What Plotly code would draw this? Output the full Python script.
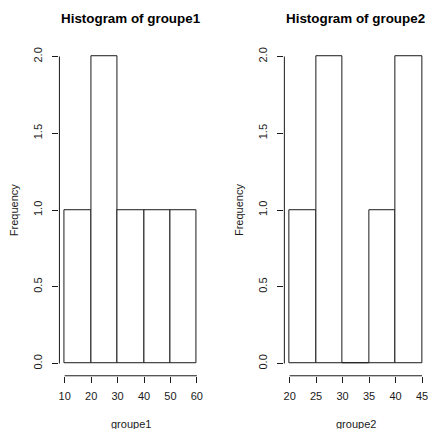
import plotly.graph_objects as go

# Histogram bins (edges) and counts for each group
edges1 = [10, 20, 30, 40, 50, 60]
counts1 = [1, 2, 1, 1, 1]

edges2 = [20, 25, 30, 35, 40, 45]
counts2 = [1, 2, 0, 1, 2]

y_ticks = [0, 0.5, 1.0, 1.5, 2.0]

titles = ["Histogram of groupe1", "Histogram of groupe2"]
xlabels = ["groupe1", "groupe2"]
ylabel = "Frequency"

W, H = 428, 429
FONT = "Liberation Sans, Arial, sans-serif"
INK = "#1a1a1a"

# Plot regions in pixels (left, right, top, bottom)
regions = [(58.7, 202.1, 44.22, 375.78), (284.7, 428.3, 44.22, 375.78)]

fig = go.Figure()

panels = [(edges1, counts1), (edges2, counts2)]
for i, (edges, counts) in enumerate(panels):
    ax = "" if i == 0 else str(i + 1)
    xref, yref = "x" + ax, "y" + ax
    centers = [(a + b) / 2 for a, b in zip(edges[:-1], edges[1:])]
    widths = [b - a for a, b in zip(edges[:-1], edges[1:])]
    # zero-count bins are drawn by plotly as a flat outline on the baseline
    fig.add_trace(go.Bar(
        x=centers, y=counts, width=widths,
        marker=dict(color="white", line=dict(color=INK, width=1)),
        xaxis=xref, yaxis=yref, showlegend=False, hoverinfo="skip",
    ))

    l, r, t, b = regions[i]
    span = edges[-1] - edges[0]
    x0 = edges[0] - 0.04 * span
    x1 = edges[-1] + 0.04 * span
    # keep the same scale if the region is clipped at the page edge
    r_clip = min(r, W)
    x1 = x0 + (x1 - x0) * (r_clip - l) / (r - l)
    ymax = max(max(counts1), max(counts2))
    xa = dict(
        domain=[l / W, r_clip / W],
        range=[x0, x1],
        tickvals=edges, ticks="outside", ticklen=6, tickwidth=1, tickcolor=INK,
        showline=False, showgrid=False, zeroline=False,
        tickfont=dict(family=FONT, size=11, color=INK),
        ticklabelstandoff=4, ticklabeloverflow="allow", anchor=yref,
    )
    ya = dict(
        domain=[1 - b / H, 1 - t / H],
        range=[-0.04 * ymax, 1.04 * ymax],
        tickvals=y_ticks, tickformat=".1f", ticks="outside", ticklen=6,
        tickwidth=1, tickcolor=INK, tickangle=-90,
        showline=False, showgrid=False, zeroline=False,
        tickfont=dict(family=FONT, size=11, color=INK),
        ticklabelstandoff=6, anchor=xref,
    )
    fig.update_layout({"xaxis" + ax: xa, "yaxis" + ax: ya})

    # axis lines spanning only the labelled range
    fig.add_shape(type="line", xref=xref, yref=yref + " domain",
                  x0=edges[0], x1=edges[-1], y0=0, y1=0,
                  line=dict(color=INK, width=1))
    fig.add_shape(type="line", xref=xref + " domain", yref=yref,
                  x0=0, x1=0, y0=y_ticks[0], y1=y_ticks[-1],
                  line=dict(color=INK, width=1))

    cx = (l + r) / 2 / W
    fig.add_annotation(text="<b>%s</b>" % titles[i], x=cx, y=1 - 19 / H,
                       xref="paper", yref="paper", showarrow=False,
                       xanchor="center", yanchor="middle",
                       font=dict(family=FONT, size=13.4, color="black"))
    fig.add_annotation(text=xlabels[i], x=cx, y=1 - 423.5 / H,
                       xref="paper", yref="paper", showarrow=False,
                       xanchor="center", yanchor="middle",
                       font=dict(family=FONT, size=11, color=INK))
    fig.add_annotation(text=ylabel, x=(l - 45.5) / W, y=1 - 210 / H,
                       xref="paper", yref="paper", showarrow=False,
                       textangle=-90, xanchor="center", yanchor="middle",
                       font=dict(family=FONT, size=11, color=INK))

fig.update_layout(
    width=W, height=H,
    margin=dict(l=0, r=0, t=0, b=0),
    paper_bgcolor="white", plot_bgcolor="white",
    bargap=0,
)

fig.write_html("out.html", config={"displayModeBar": False})
